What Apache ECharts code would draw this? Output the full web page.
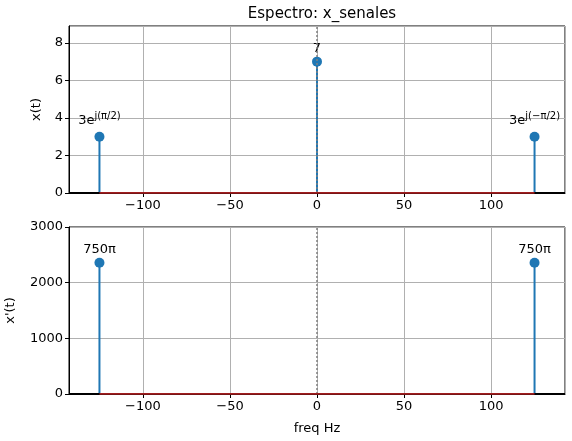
<!DOCTYPE html>
<html><head><meta charset="utf-8">
<script src="https://cdn.jsdelivr.net/npm/echarts@6/dist/echarts.min.js"></script>
<style>html,body{margin:0;padding:0;background:#fff}#c{width:572px;height:441px}</style>
</head><body><div id="c"></div>
<script>
// ---- data ----
var freqTop = [-125, 0, 125];
var magTop = [3, 7, 3];
var labelTop = ['{b|3e}{s|j(π/2)}', '{b|7}', '{b|3e}{s|j(−π/2)}'];
var freqBot = [-125, 125];
var magBot = [2356.19, 2356.19];
var labelBot = ['{b|750π}', '{b|750π}'];
var baseline = [[-125, 0], [125, 0]];

var FONT = 'DejaVu Sans';
var BLUE = '#1f77b4';
var chart = echarts.init(document.getElementById('c'), null, {renderer: 'canvas'});

function pts(xs, ys, labs) {
  return xs.map(function (x, i) { return {value: [x, ys[i]], lab: labs[i]}; });
}
var rich = {
  b: {fontFamily: FONT, fontSize: 13, color: '#000'},
  s: {fontFamily: FONT, fontSize: 10, color: '#000', verticalAlign: 'top', padding: [0, 0, 8, 0]}
};
function mkX(idx, showName) {
  return {
    type: 'value', gridIndex: idx, min: -142.5, max: 142.5,
    name: showName ? 'freq Hz' : '', nameLocation: 'middle', nameGap: 28,
    nameTextStyle: {fontFamily: FONT, fontSize: 13, color: '#000'},
    axisLine: {show: true, onZero: false, lineStyle: {color: '#000'}},
    axisTick: {show: true, length: 4, lineStyle: {color: '#000'}},
    axisLabel: {fontFamily: FONT, fontSize: 13, color: '#000', margin: 6, showMinLabel: false, showMaxLabel: false,
      formatter: function (v) { return String(v).replace('-', '\u2212'); }},
    splitLine: {show: true, lineStyle: {color: '#b0b0b0', width: 1}}
  };
}
function mkY(idx, name, max, interval) {
  return {
    type: 'value', gridIndex: idx, min: 0, max: max, interval: interval,
    name: name, nameLocation: 'middle', nameGap: idx === 0 ? 26 : 52, nameRotate: 90,
    nameTextStyle: {fontFamily: FONT, fontSize: 13, color: '#000'},
    axisLine: {show: true, onZero: false, lineStyle: {color: '#000'}},
    axisTick: {show: true, length: 4, lineStyle: {color: '#000'}},
    axisLabel: {fontFamily: FONT, fontSize: 13, color: '#000', margin: 6,
      showMaxLabel: Number.isInteger(max / interval),
      formatter: function (v) { return String(v); }},
    splitLine: {show: true, lineStyle: {color: '#b0b0b0', width: 1}}
  };
}
function stems(idx, data) {
  return {
    type: 'custom', xAxisIndex: idx, yAxisIndex: idx, z: 3,
    data: data.map(function (d) { return d.value; }),
    renderItem: function (params, api) {
      var p1 = api.coord([api.value(0), 0]);
      var p2 = api.coord([api.value(0), api.value(1)]);
      return {type: 'line', shape: {x1: p1[0], y1: p1[1], x2: p2[0], y2: p2[1]},
        style: {stroke: BLUE, lineWidth: 2}};
    }
  };
}
function markers(idx, data) {
  return {
    type: 'scatter', xAxisIndex: idx, yAxisIndex: idx, symbolSize: 10, z: 4,
    itemStyle: {color: BLUE, opacity: 1},
    data: data.map(function (d) {
      return {value: d.value, label: {show: true, position: 'top', distance: 2, formatter: d.lab, rich: rich}};
    }),
    markLine: {
      silent: true, symbol: 'none', label: {show: false},
      data: [
        {xAxis: 0, lineStyle: {color: '#808080', type: [2, 2], width: 1.5}},
        {yAxis: 0, lineStyle: {color: '#000', type: 'solid', width: 2}}
      ]
    }
  };
}
function base(idx) {
  return {
    type: 'line', xAxisIndex: idx, yAxisIndex: idx, data: baseline, symbol: 'none', z: 5,
    lineStyle: {color: '#d62728', width: 1.5}
  };
}
var ptsTop = pts(freqTop, magTop, labelTop);
var ptsBot = pts(freqBot, magBot, labelBot);

chart.setOption({
  animation: false,
  title: {text: 'Espectro: x_senales', left: 317, top: 2, textAlign: 'center',
    textStyle: {fontFamily: FONT, fontSize: 15, fontWeight: 'normal', color: '#000'}},
  grid: [
    {left: 69, right: 7, top: 26, height: 167, show: true, borderColor: '#000', borderWidth: 1,
      backgroundColor: 'transparent', containLabel: false, outerBoundsMode: 'none'},
    {left: 69, right: 7, top: 227, height: 167, show: true, borderColor: '#000', borderWidth: 1,
      backgroundColor: 'transparent', containLabel: false, outerBoundsMode: 'none'}
  ],
  xAxis: [mkX(0, false), mkX(1, true)],
  yAxis: [mkY(0, 'x(t)', 8.9, 2), mkY(1, "x'(t)", 3000, 1000)],
  series: [stems(0, ptsTop), markers(0, ptsTop), base(0), stems(1, ptsBot), markers(1, ptsBot), base(1)]
});
</script></body></html>
